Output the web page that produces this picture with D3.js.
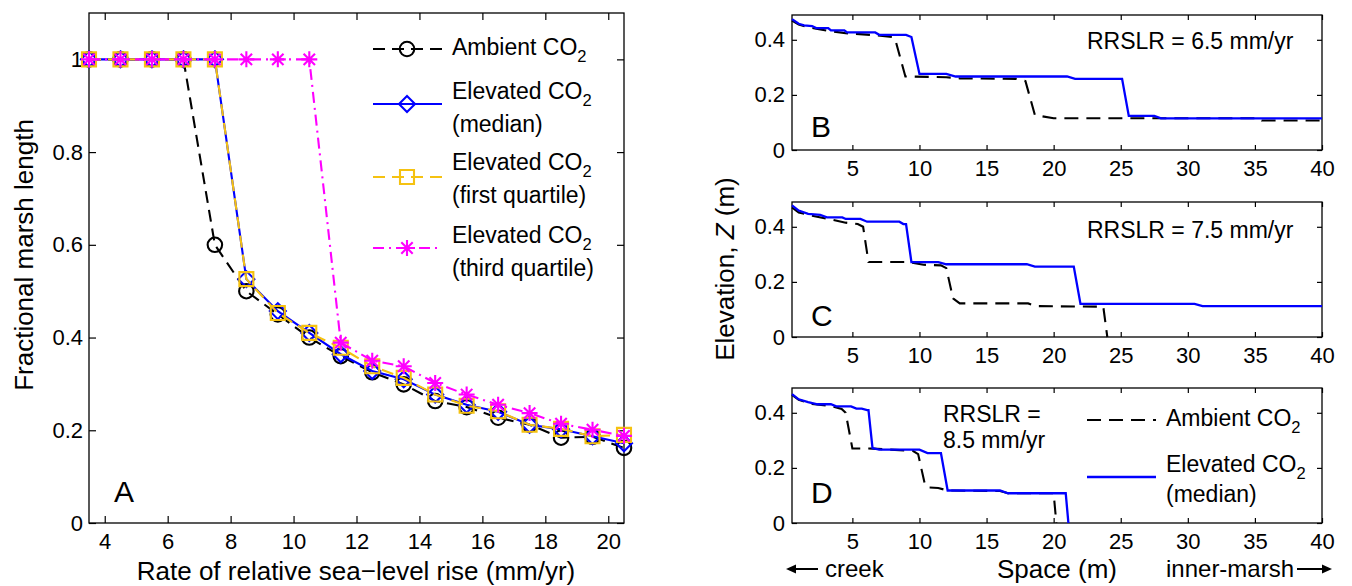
<!DOCTYPE html>
<html>
<head>
<meta charset="utf-8">
<script src="https://cdn.jsdelivr.net/npm/d3@7"></script>
<style>
  body { margin: 0; background: #fff; }
  svg { display: block; font-family: "Liberation Sans", Arial, Helvetica, sans-serif; }
</style>
</head>
<body>
<svg id="fig" width="1352" height="586"></svg>
<script>
// Panel A: fractional marsh length vs rate of relative sea-level rise
const rslr = [3.5, 4.5, 5.5, 6.5, 7.5, 8.5, 9.5, 10.5, 11.5, 12.5, 13.5, 14.5, 15.5, 16.5, 17.5, 18.5, 19.5, 20.5];
const ambientLen = [1, 1, 1, 1, 0.60, 0.50, 0.45, 0.40, 0.36, 0.325, 0.299, 0.263, 0.25, 0.227, 0.212, 0.184, 0.186, 0.162];
const medianLen = [1, 1, 1, 1, 1, 0.526, 0.457, 0.41, 0.364, 0.328, 0.31, 0.277, 0.255, 0.24, 0.212, 0.202, 0.187, 0.172];
const q1Len = [1, 1, 1, 1, 1, 0.526, 0.453, 0.41, 0.378, 0.338, 0.313, 0.277, 0.253, 0.241, 0.212, 0.203, 0.187, 0.19];
const q3Len = [1, 1, 1, 1, 1, 1, 1, 1, 0.389, 0.35, 0.338, 0.302, 0.277, 0.255, 0.237, 0.214, 0.201, 0.188];
const xTicksA = [4, 6, 8, 10, 12, 14, 16, 18, 20];
const yTicksA = [0, 0.2, 0.4, 0.6, 0.8, 1];

// Panels B-D: elevation profiles [space (m), elevation (m)]
const profB_amb = [[0.5, 0.47], [1, 0.455], [1.5, 0.448], [2.3, 0.44], [3.3, 0.432], [4.5, 0.424], [6.8, 0.416], [8.0, 0.41], [8.2, 0.40], [8.95, 0.267], [12, 0.264], [13, 0.26], [17.2, 0.258], [17.9, 0.25], [18.6, 0.127], [20, 0.115], [35.3, 0.115], [35.5, 0.107], [40, 0.107]];
const profB_elev = [[0.5, 0.475], [1, 0.458], [1.4, 0.452], [2.0, 0.45], [2.3, 0.4425], [3.2, 0.4425], [3.4, 0.434], [4.4, 0.434], [4.6, 0.4266], [6.7, 0.4266], [7.0, 0.418], [9.0, 0.418], [9.4, 0.41], [10.0, 0.276], [12.0, 0.276], [12.7, 0.2667], [21.0, 0.2667], [21.6, 0.258], [25.1, 0.258], [25.6, 0.124], [27.5, 0.124], [28.0, 0.115], [40, 0.115]];
const profC_amb = [[0.5, 0.47], [1, 0.452], [2, 0.44], [3.2, 0.4285], [4.5, 0.415], [5.4, 0.41], [5.8, 0.40], [6.2, 0.272], [9.2, 0.272], [10.3, 0.262], [11.6, 0.26], [12.0, 0.25], [12.5, 0.14], [13.0, 0.122], [18.1, 0.122], [18.7, 0.112], [23.7, 0.11], [24.0, 0]];
const profC_elev = [[0.5, 0.478], [1, 0.459], [1.7, 0.447], [2.6, 0.443], [3.1, 0.434], [4.25, 0.434], [4.5, 0.4285], [5.6, 0.4285], [6.1, 0.4185], [8.5, 0.4185], [8.8, 0.41], [9.0, 0.41], [9.4, 0.272], [11.4, 0.272], [12.0, 0.264], [18.0, 0.264], [18.6, 0.2555], [21.5, 0.2555], [22.0, 0.12], [30.5, 0.12], [31.1, 0.112], [40, 0.112]];
const profD_amb = [[0.5, 0.465], [1, 0.447], [2, 0.432], [3.4, 0.424], [4.2, 0.414], [4.5, 0.40], [5.0, 0.271], [6.5, 0.27], [9.5, 0.262], [9.9, 0.25], [10.4, 0.141], [10.6, 0.129], [11.4, 0.127], [12.1, 0.118], [16.0, 0.116], [16.6, 0.108], [20.0, 0.108], [20.2, 0]];
const profD_elev = [[0.5, 0.468], [1, 0.449], [1.7, 0.439], [2.4, 0.431], [3.4, 0.431], [3.8, 0.4234], [4.9, 0.4234], [5.3, 0.415], [5.7, 0.415], [6.1, 0.41], [6.2, 0.41], [6.5, 0.272], [7.0, 0.266], [10.0, 0.266], [10.6, 0.2537], [11.6, 0.2537], [12.1, 0.118], [16.0, 0.118], [16.6, 0.108], [20.9, 0.108], [21.1, 0]];
const xTicksP = [5, 10, 15, 20, 25, 30, 35, 40];
const yTicksP = [0, 0.2, 0.4];

const svg = d3.select("#fig");
const fmt = d => String(+d.toFixed(1));
const yellow = "#f5c211";

// box with inward ticks on all four sides
function frame(x, y, xt, yt, tick, padX, padY, fs) {
    const g = svg.append("g");
    const [x0, x1] = x.range();
    const [y0, y1] = y.range();
    g.append("g").attr("transform", `translate(0,${y0})`)
        .call(d3.axisBottom(x).tickValues(xt).tickSizeInner(-tick).tickSizeOuter(0).tickPadding(padX).tickFormat(fmt));
    g.append("g").attr("transform", `translate(0,${y1})`)
        .call(d3.axisTop(x).tickValues(xt).tickSizeInner(-tick).tickSizeOuter(0).tickFormat(""));
    g.append("g").attr("transform", `translate(${x0},0)`)
        .call(d3.axisLeft(y).tickValues(yt).tickSizeInner(-tick).tickSizeOuter(0).tickPadding(padY).tickFormat(fmt));
    g.append("g").attr("transform", `translate(${x1},0)`)
        .call(d3.axisRight(y).tickValues(yt).tickSizeInner(-tick).tickSizeOuter(0).tickFormat(""));
    g.selectAll(".domain").remove();
    g.selectAll("g").attr("font-family", null).attr("font-size", fs);
    g.selectAll(".tick line").attr("stroke-width", 1.2);
    g.append("rect")
        .attr("x", x0).attr("y", y1).attr("width", x1 - x0).attr("height", y0 - y1)
        .attr("fill", "none").attr("stroke", "#000").attr("stroke-width", 1.3);
    return g;
}

function co2(g, x, y, fs) {
    const t = g.append("text").attr("x", x).attr("y", y).attr("font-size", fs);
    t.append("tspan").text("CO");
    t.append("tspan").attr("dy", 7).attr("font-size", fs * 0.72).text("2");
    return t;
}

function label(x, y, txt, fs, anchor) {
    return svg.append("text").attr("x", x).attr("y", y)
        .attr("font-size", fs).attr("text-anchor", anchor || "start").text(txt);
}

// marker paths
const circleM = d3.symbol(d3.symbolCircle, 165)();
const squareM = "M-7,-7H7V7H-7Z";
const diamondM = "M0,-8L8,0L0,8L-8,0Z";
const starM = "M0,-8V8M-8,0H8M-5.7,-5.7L5.7,5.7M-5.7,5.7L5.7,-5.7";

// ---------------- Panel A ----------------
const xA = d3.scaleLinear().domain([3.5, 20.5]).range([89, 624]);
const yA = d3.scaleLinear().domain([0, 1.1]).range([523, 13]);
frame(xA, yA, xTicksA, yTicksA, 7, 10, 6, 22);

const seriesA = [
    { vals: ambientLen, color: "#000", dash: "12,7", marker: circleM },
    { vals: medianLen, color: "#0000ff", dash: null, marker: diamondM },
    { vals: q1Len, color: yellow, dash: "12,7", marker: squareM },
    { vals: q3Len, color: "#ff00ff", dash: "11,5,2,5", marker: starM }
];
const lineA = d3.line().x(d => xA(d[0])).y(d => yA(d[1]));
seriesA.forEach(s => {
    const pts = rslr.map((r, i) => [r, s.vals[i]]);
    svg.append("path").attr("d", lineA(pts))
        .attr("fill", "none").attr("stroke", s.color).attr("stroke-width", 2.1)
        .attr("stroke-dasharray", s.dash);
    svg.append("g").selectAll("path").data(pts).enter().append("path")
        .attr("transform", d => `translate(${xA(d[0])},${yA(d[1])})`)
        .attr("d", s.marker)
        .attr("fill", "none").attr("stroke", s.color).attr("stroke-width", 2.1);
});

// legend A
const legA = svg.append("g");
const legRows = [
    { s: seriesA[0], ly: 49, t1: 55, t2: null },
    { s: seriesA[1], ly: 104, t1: 99, t2: "(median)", t2y: 132 },
    { s: seriesA[2], ly: 177, t1: 170, t2: "(first quartile)", t2y: 203 },
    { s: seriesA[3], ly: 248, t1: 243, t2: "(third quartile)", t2y: 276 }
];
legRows.forEach((r, i) => {
    legA.append("line").attr("x1", 373).attr("x2", 442).attr("y1", r.ly).attr("y2", r.ly)
        .attr("stroke", r.s.color).attr("stroke-width", 2.1).attr("stroke-dasharray", r.s.dash);
    legA.append("path").attr("transform", `translate(407,${r.ly})`).attr("d", r.s.marker)
        .attr("fill", "none").attr("stroke", r.s.color).attr("stroke-width", 2.1);
    const t = co2(legA, 452, r.t1, 23);
    t.insert("tspan", ":first-child").text(i === 0 ? "Ambient " : "Elevated ");
    if (r.t2) legA.append("text").attr("x", 452).attr("y", r.t2y).attr("font-size", 23).text(r.t2);
});

label(114, 502, "A", 30);
label(356, 580, "Rate of relative sea\u2212level rise (mm/yr)", 26, "middle");
svg.append("text").attr("transform", "translate(33,255) rotate(-90)")
    .attr("font-size", 26).attr("text-anchor", "middle").text("Fractional marsh length");

// ---------------- Panels B, C, D ----------------
const xP = d3.scaleLinear().domain([0.5, 40]).range([792, 1322]);
const panels = [
    { top: 15, bottom: 150, amb: profB_amb, elev: profB_elev, letter: "B", ly: 137 },
    { top: 202, bottom: 337, amb: profC_amb, elev: profC_elev, letter: "C", ly: 326 },
    { top: 388, bottom: 523, amb: profD_amb, elev: profD_elev, letter: "D", ly: 503 }
];
panels.forEach(p => {
    const y = d3.scaleLinear().domain([0, 0.49]).range([p.bottom, p.top]);
    frame(xP, y, xTicksP, yTicksP, 5, 10, 7, 22);
    const line = d3.line().x(d => xP(d[0])).y(d => y(d[1]));
    svg.append("path").attr("d", line(p.amb)).attr("fill", "none")
        .attr("stroke", "#000").attr("stroke-width", 2.1).attr("stroke-dasharray", "14,8");
    svg.append("path").attr("d", line(p.elev)).attr("fill", "none")
        .attr("stroke", "#0000ff").attr("stroke-width", 2.3);
    label(811, p.ly, p.letter, 30);
});

label(1087, 49, "RRSLR = 6.5 mm/yr", 23);
label(1087, 238, "RRSLR = 7.5 mm/yr", 23);
label(943, 422, "RRSLR =", 23);
label(943, 448, "8.5 mm/yr", 23);

// legend D
const legD = svg.append("g");
legD.append("line").attr("x1", 1087).attr("x2", 1156).attr("y1", 420).attr("y2", 420)
    .attr("stroke", "#000").attr("stroke-width", 2.1).attr("stroke-dasharray", "14,8");
co2(legD, 1166, 426, 23).insert("tspan", ":first-child").text("Ambient ");
legD.append("line").attr("x1", 1087).attr("x2", 1156).attr("y1", 477).attr("y2", 477)
    .attr("stroke", "#0000ff").attr("stroke-width", 2.3);
co2(legD, 1166, 472, 23).insert("tspan", ":first-child").text("Elevated ");
legD.append("text").attr("x", 1166).attr("y", 502).attr("font-size", 23).text("(median)");

// y label for profiles
const ey = svg.append("text").attr("transform", "translate(734,269) rotate(-90)")
    .attr("font-size", 26).attr("text-anchor", "middle");
ey.append("tspan").text("Elevation, ");
ey.append("tspan").attr("font-style", "italic").text("Z");
ey.append("tspan").text(" (m)");

// bottom labels with arrows
function arrow(xa, xb, y) {
    svg.append("line").attr("x1", xa).attr("x2", xb).attr("y1", y).attr("y2", y)
        .attr("stroke", "#000").attr("stroke-width", 2);
    const dir = xb > xa ? 1 : -1;
    svg.append("path")
        .attr("d", `M${xb + dir * 2},${y}L${xb - dir * 8},${y - 4.5}L${xb - dir * 8},${y + 4.5}Z`)
        .attr("fill", "#000");
}
arrow(818, 788, 569);
label(825, 577, "creek", 24);
label(1057, 578, "Space (m)", 26, "middle");
label(1166, 577, "inner-marsh", 24);
arrow(1297, 1330, 569);
</script>
</body>
</html>
